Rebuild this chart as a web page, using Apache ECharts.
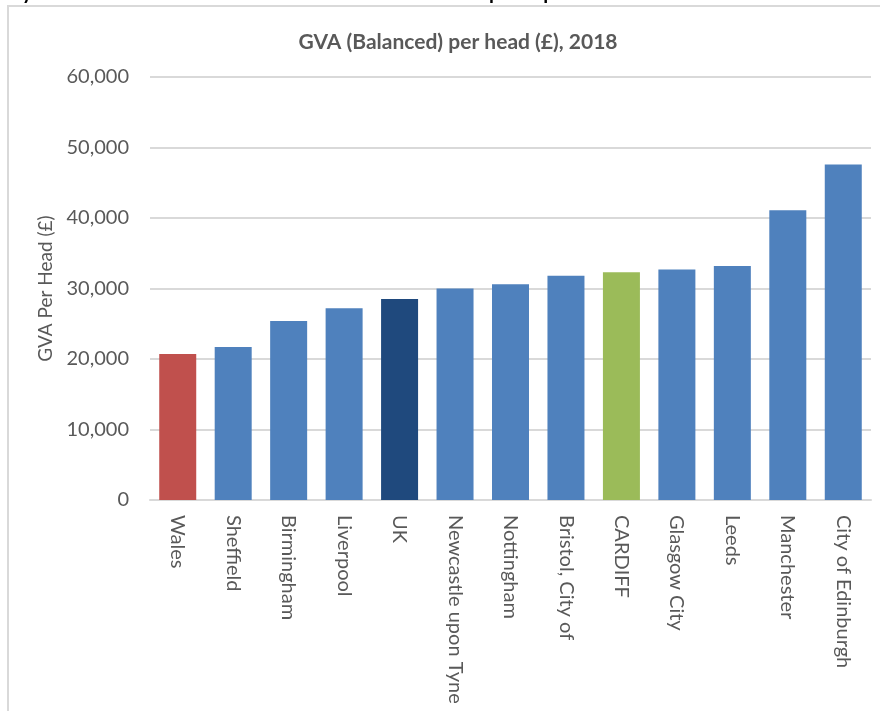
<!DOCTYPE html>
<html>
<head>
<meta charset="utf-8">
<script src="https://cdn.jsdelivr.net/npm/echarts@6/dist/echarts.min.js"></script>
<style>
  html, body { margin: 0; padding: 0; background: #ffffff; }
  #chart { width: 880px; height: 711px; }
</style>
</head>
<body>
<div id="chart"></div>
<script>
// ---- Data ----
const categories = ['Wales', 'Sheffield', 'Birmingham', 'Liverpool', 'UK', 'Newcastle upon Tyne',
  'Nottingham', 'Bristol, City of', 'CARDIFF', 'Glasgow City', 'Leeds', 'Manchester', 'City of Edinburgh'];
const gvaPerHead = [20700, 21700, 25400, 27200, 28500, 30000, 30600, 31800, 32300, 32700, 33200, 41100, 47600];
const yTicks = [0, 10000, 20000, 30000, 40000, 50000, 60000];
const chartTitle = 'GVA (Balanced) per head (£), 2018';
const yAxisTitle = 'GVA Per Head (£)';

// ---- Styles ----
const defaultColor = '#4F81BD';
const specialColors = { 'Wales': '#C0504D', 'UK': '#1F497D', 'CARDIFF': '#9BBB59' };
const FONT = 'Lato, "Liberation Sans", sans-serif';

const chart = echarts.init(document.getElementById('chart'), null, { renderer: 'canvas' });

const seriesData = gvaPerHead.map((v, i) => ({
  value: v,
  itemStyle: { color: specialColors[categories[i]] || defaultColor }
}));

chart.setOption({
  backgroundColor: '#ffffff',
  animation: false,
  title: {
    text: chartTitle,
    left: 453,
    top: 27,
    textAlign: 'center',
    textStyle: { fontFamily: FONT, fontSize: 21, fontWeight: 'bold', color: '#595959' }
  },
  graphic: [
    {
      type: 'rect',
      shape: { x: 8, y: 6, width: 900, height: 720 },
      style: { fill: 'none', stroke: '#d9d9d9', lineWidth: 2 },
      silent: true
    },
    {
      type: 'text',
      left: 22, top: -17,
      style: { text: 'y', fontFamily: FONT, fontSize: 20, fontWeight: 'bold', fill: '#000000' },
      silent: true
    },
    {
      type: 'text',
      left: 489, top: -17,
      style: { text: 'per cap', fontFamily: FONT, fontSize: 20, fontWeight: 'bold', fill: '#000000' },
      silent: true
    }
  ],
  grid: { left: 150, right: 9, top: 77, bottom: 211, containLabel: false },
  xAxis: {
    type: 'category',
    data: categories,
    axisLine: { show: true, lineStyle: { color: '#d9d9d9', width: 2 } },
    axisTick: { show: false },
    axisLabel: {
      rotate: -90,
      interval: 0,
      margin: 15,
      fontFamily: FONT,
      fontSize: 20,
      color: '#595959'
    }
  },
  yAxis: {
    type: 'value',
    min: yTicks[0],
    max: yTicks[yTicks.length - 1],
    interval: yTicks[1] - yTicks[0],
    name: yAxisTitle,
    nameLocation: 'middle',
    nameGap: 82,
    nameRotate: 90,
    nameTextStyle: { fontFamily: FONT, fontSize: 19, color: '#595959' },
    axisLine: { show: false },
    axisTick: { show: false },
    splitLine: { show: true, lineStyle: { color: '#d9d9d9', width: 2 } },
    axisLabel: {
      margin: 21,
      fontFamily: FONT,
      fontSize: 20,
      color: '#595959',
      formatter: v => v.toLocaleString('en-GB')
    }
  },
  series: [{
    type: 'bar',
    data: seriesData,
    barWidth: 37
  }]
});
</script>
</body>
</html>
